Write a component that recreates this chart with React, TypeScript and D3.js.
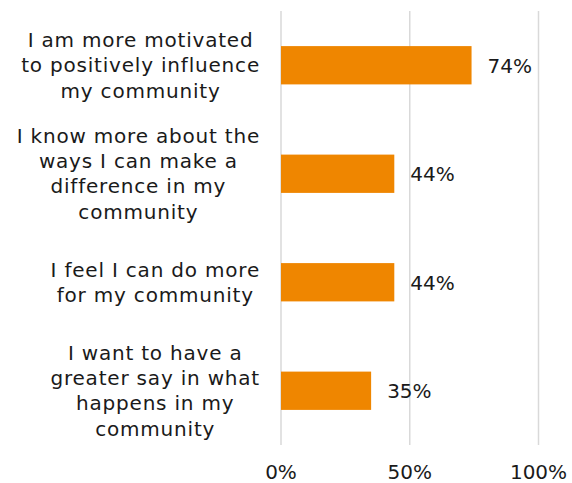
import React, { useEffect, useRef } from "react";
import * as d3 from "d3";

const categories = [
  "I am more motivated\nto positively influence\nmy community",
  "I know more about the\nways I can make a\ndifference in my\ncommunity",
  "I feel I can do more\nfor my community",
  "I want to have a\ngreater say in what\nhappens in my\ncommunity",
];
const values = [74, 44, 44, 35];
const tickValues = [0, 50, 100];

const W = 572;
const H = 483;
const FONT = "'DejaVu Sans', Verdana, sans-serif";
const TEXT = "#1a1a1a";
const BAR = "#EF8600";
const GRID = "#d9d9d9";

export default function App() {
  const ref = useRef<SVGSVGElement>(null);

  useEffect(() => {
    const svg = d3.select(ref.current);
    svg.selectAll("*").remove();

    const x = d3.scaleLinear().domain([0, 100]).range([281, 538.5]);
    const y = d3
      .scaleBand<number>()
      .domain(d3.range(categories.length))
      .range([11, 445])
      .paddingInner(0.647)
      .paddingOuter(0.3235);

    // gridlines
    svg
      .append("g")
      .selectAll("line")
      .data(tickValues)
      .join("line")
      .attr("x1", (d) => x(d))
      .attr("x2", (d) => x(d))
      .attr("y1", 11)
      .attr("y2", 445)
      .attr("stroke", GRID)
      .attr("stroke-width", 1.5);

    // bars
    svg
      .append("g")
      .selectAll("rect")
      .data(values)
      .join("rect")
      .attr("x", x(0))
      .attr("y", (_, i) => y(i)!)
      .attr("width", (d) => x(d) - x(0))
      .attr("height", y.bandwidth())
      .attr("fill", BAR);

    // value labels
    svg
      .append("g")
      .selectAll("text")
      .data(values)
      .join("text")
      .attr("x", (d) => x(d) + 16)
      .attr("y", (_, i) => y(i)! + y.bandwidth() / 2 + 7.5)
      .attr("font-family", FONT)
      .attr("font-size", 20)
      .attr("fill", TEXT)
      .text((d) => `${d}%`);

    // tick labels
    svg
      .append("g")
      .selectAll("text")
      .data(tickValues)
      .join("text")
      .attr("x", (d) => x(d))
      .attr("y", 478.5)
      .attr("text-anchor", "middle")
      .attr("font-family", FONT)
      .attr("font-size", 20)
      .attr("fill", TEXT)
      .text((d) => `${d}%`);

    // category labels
    const lineH = 25.4;
    const rightEdge = 260;
    const cg = svg.append("g");
    categories.forEach((c, i) => {
      const lines = c.split("\n");
      const cy = y(i)! + y.bandwidth() / 2;
      const texts = lines.map((ln, k) =>
        cg
          .append("text")
          .attr("y", cy + (k - (lines.length - 1) / 2) * lineH + 7)
          .attr("font-family", FONT)
          .attr("font-size", 20)
          .attr("letter-spacing", 0.8)
          .attr("fill", TEXT)
          .attr("text-anchor", "middle")
          .text(ln)
      );
      const maxW = d3.max(texts, (t) => (t.node() as SVGTextElement).getComputedTextLength()) || 0;
      texts.forEach((t) => t.attr("x", rightEdge - maxW / 2));
    });
  }, []);

  return (
    <svg
      ref={ref}
      width={W}
      height={H}
      style={{ position: "absolute", left: 0, top: 0, display: "block", background: "#fff" }}
    />
  );
}
